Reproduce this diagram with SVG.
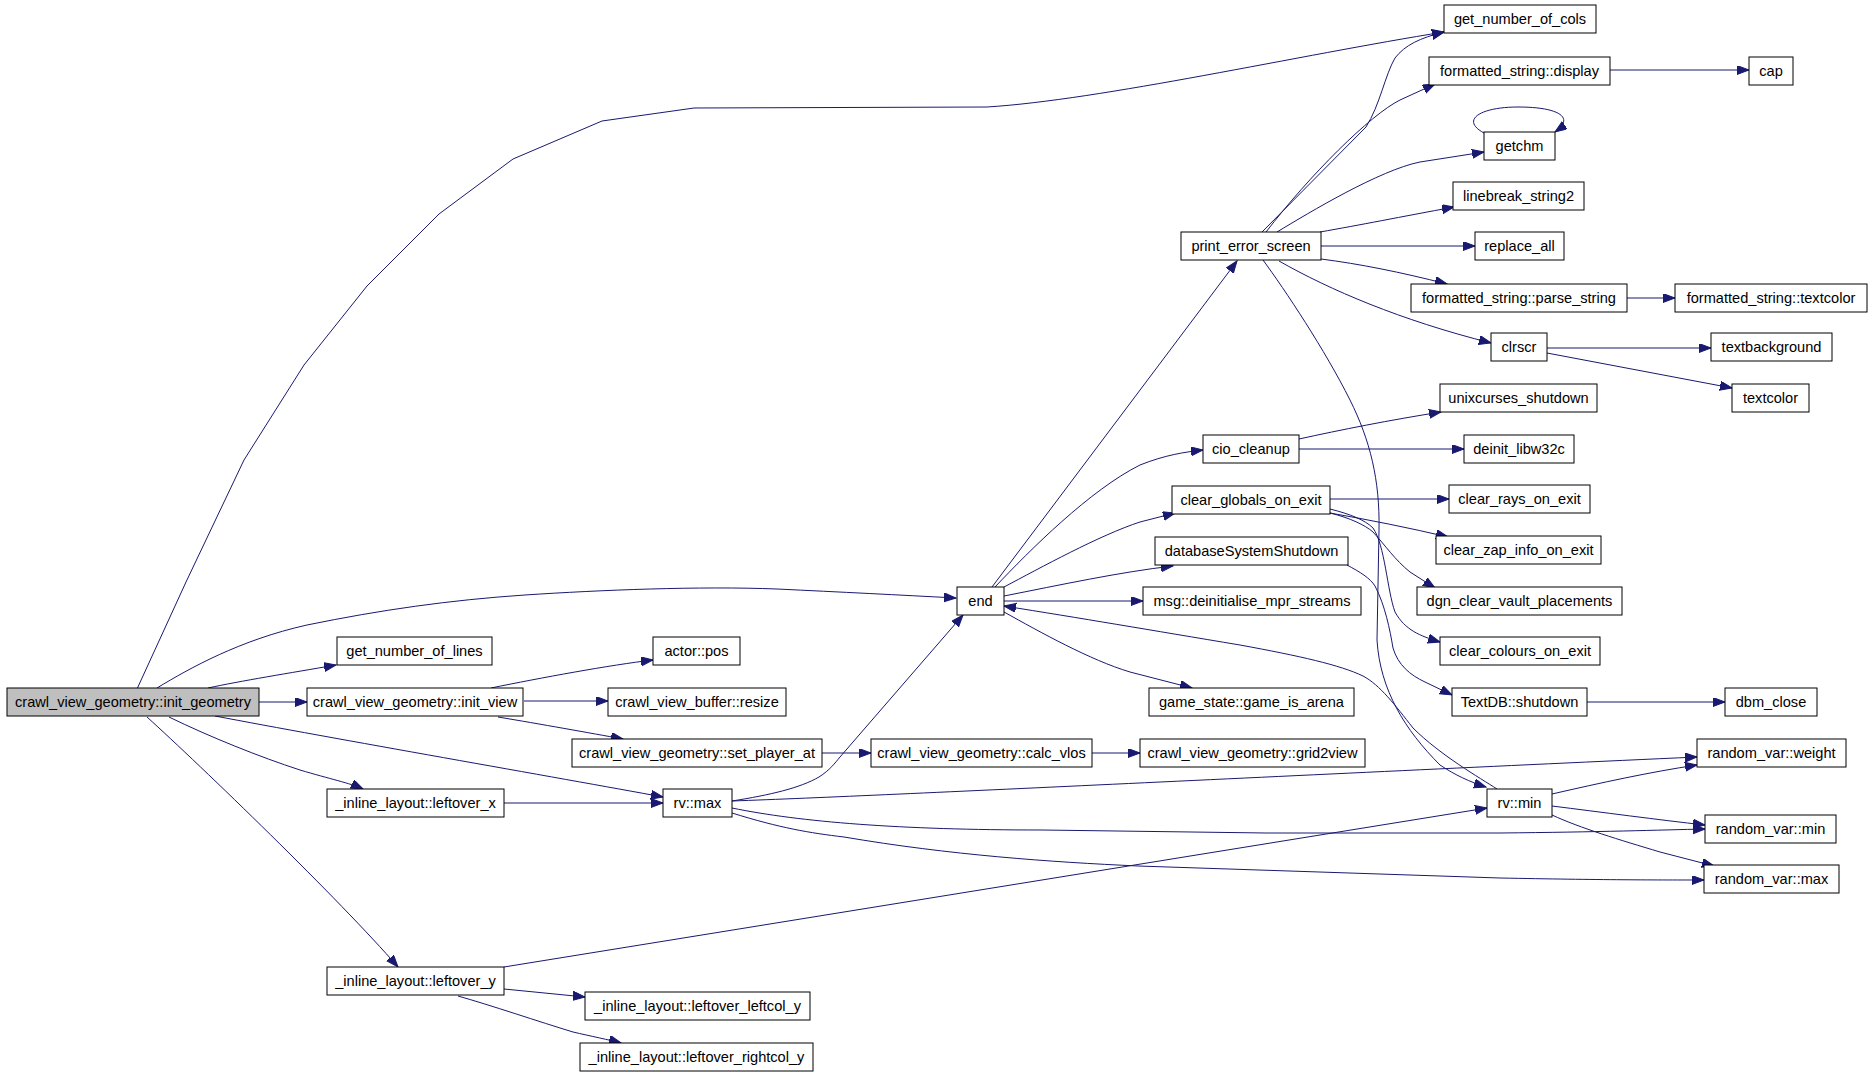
<svg xmlns="http://www.w3.org/2000/svg" width="1872" height="1075" viewBox="0 0 1872 1075">
<style>
.n rect{fill:#fff;stroke:#000;stroke-width:1}
.n text{font-family:"Liberation Sans",Arial,sans-serif;font-size:14.6px;fill:#000;text-anchor:middle}
#init_geometry rect{fill:#bfbfbf}
#edges path{fill:none;stroke:#191970;stroke-width:1;marker-end:url(#ah)}
</style>
<defs>
<marker id="ah" markerUnits="userSpaceOnUse" markerWidth="13" markerHeight="10" refX="12" refY="4.5" orient="auto">
<path d="M0,0 L12,4.5 L0,9 z" fill="#191970" stroke="#191970" stroke-width="1"/>
</marker>
</defs>
<rect x="0" y="0" width="1872" height="1075" fill="#fff"/>
<g id="edges">
<path d="M137,689 L186,582 L244,460 L304,365 L367,286 L439,214 L513,159 L602,121 L694,108 L987,107 C1100,100 1300,55 1444,32"/>
<path d="M157,688 C190,668 240,640 307,625 C380,610 450,600 525,595 C600,590 700,586 777,589 C840,592 900,595 956,598"/>
<path d="M208,688 C240,681 290,673 336,665"/>
<path d="M259,702 L307,702"/>
<path d="M215,716 C330,738 560,778 663,797"/>
<path d="M169,717 C210,737 260,757 300,770 C330,779 350,783 363,789"/>
<path d="M147,717 C200,765 340,900 398,967"/>
<path d="M504,803 L663,803"/>
<path d="M504,967 L1487,808"/>
<path d="M504,989 L585,997"/>
<path d="M458,996 C490,1005 540,1022 573,1032 C590,1036 610,1040 621,1043"/>
<path d="M491,688 C540,678 610,665 653,660"/>
<path d="M524,701 L608,701"/>
<path d="M498,717 C540,724 590,733 623,739"/>
<path d="M822,753 L871,753"/>
<path d="M1092,753 L1140,753"/>
<path d="M732,801 C770,795 800,788 819,777 C830,770 835,763 840,757 L963,615"/>
<path d="M732,801 C900,795 1300,775 1697,757"/>
<path d="M732,808 C800,822 900,830 1042,830 L1266,833 L1500,833 C1600,832 1660,830 1705,829"/>
<path d="M732,813 C780,828 810,833 844,837 C950,855 1050,862 1138,866 L1500,878 C1600,880 1660,880 1704,880"/>
<path d="M1552,794 C1600,783 1650,772 1697,765"/>
<path d="M1552,806 C1600,812 1660,820 1705,825"/>
<path d="M1552,815 C1580,828 1620,840 1660,852 L1714,866"/>
<path d="M1497,789 C1480,778 1440,755 1413,728 C1395,705 1380,685 1363,676 C1340,665 1300,656 1240,645 C1150,630 1080,618 1004,606"/>
<path d="M992,587 L1237,261"/>
<path d="M995,587 C1030,550 1090,490 1140,465 C1165,455 1185,452 1203,450"/>
<path d="M1004,587 C1040,568 1100,535 1140,522 L1175,513"/>
<path d="M1004,596 C1060,585 1120,572 1173,566"/>
<path d="M1004,601 L1143,601"/>
<path d="M1004,612 C1040,632 1090,660 1130,672 L1192,688"/>
<path d="M1262,232 L1366,127 C1380,105 1385,75 1395,58 C1405,45 1420,38 1444,32"/>
<path d="M1266,232 C1310,175 1370,115 1400,100 L1435,84"/>
<path d="M1277,232 C1310,212 1380,170 1420,162 L1484,152"/>
<path d="M1320,232 C1360,225 1400,217 1454,207"/>
<path d="M1321,246 L1475,246"/>
<path d="M1321,259 C1360,264 1400,272 1447,284"/>
<path d="M1279,261 C1330,290 1400,320 1491,343"/>
<path d="M1263,260 C1285,290 1325,350 1350,400 C1370,440 1380,480 1379,530 L1377,640 C1380,690 1405,730 1440,765 C1455,775 1470,782 1486,787"/>
<path d="M1610,70 L1749,70"/>
<path d="M1484,133 C1460,120 1480,107 1518,107 C1560,107 1575,118 1555,132"/>
<path d="M1627,298 L1675,298"/>
<path d="M1547,348 L1711,348"/>
<path d="M1547,353 L1732,388"/>
<path d="M1299,439 C1340,430 1390,420 1441,412"/>
<path d="M1299,449 L1464,449"/>
<path d="M1330,499 L1449,499"/>
<path d="M1330,513 C1370,520 1410,528 1448,537"/>
<path d="M1330,513 C1350,518 1365,525 1373,532 C1385,545 1395,560 1410,572 L1435,588"/>
<path d="M1330,509 C1350,514 1365,520 1373,528 C1385,545 1387,590 1395,612 C1405,630 1420,636 1440,642"/>
<path d="M1347,565 C1360,572 1370,578 1375,586 C1385,605 1390,630 1393,648 C1398,665 1410,675 1425,682 L1452,695"/>
<path d="M1587,702 L1725,702"/>
</g>
<g id="init_geometry" class="n"><rect x="7" y="688" width="252" height="28"/><text x="133" y="707">crawl_view_geometry::init_geometry</text></g>
<g id="get_number_of_lines" class="n"><rect x="337" y="637" width="155" height="28"/><text x="414.5" y="656">get_number_of_lines</text></g>
<g id="init_view" class="n"><rect x="307" y="688" width="216" height="28"/><text x="415" y="707">crawl_view_geometry::init_view</text></g>
<g id="leftover_x" class="n"><rect x="327" y="789" width="177" height="28"/><text x="415.5" y="808">_inline_layout::leftover_x</text></g>
<g id="leftover_y" class="n"><rect x="327" y="967" width="177" height="28"/><text x="415.5" y="986">_inline_layout::leftover_y</text></g>
<g id="leftover_leftcol_y" class="n"><rect x="585" y="992" width="225" height="28"/><text x="697.5" y="1011">_inline_layout::leftover_leftcol_y</text></g>
<g id="leftover_rightcol_y" class="n"><rect x="580" y="1043" width="233" height="28"/><text x="696.5" y="1062">_inline_layout::leftover_rightcol_y</text></g>
<g id="actor_pos" class="n"><rect x="653" y="637" width="87" height="28"/><text x="696.5" y="656">actor::pos</text></g>
<g id="buffer_resize" class="n"><rect x="608" y="688" width="178" height="28"/><text x="697" y="707">crawl_view_buffer::resize</text></g>
<g id="set_player_at" class="n"><rect x="572" y="739" width="250" height="28"/><text x="697" y="758">crawl_view_geometry::set_player_at</text></g>
<g id="calc_vlos" class="n"><rect x="871" y="739" width="221" height="28"/><text x="981.5" y="758">crawl_view_geometry::calc_vlos</text></g>
<g id="grid2view" class="n"><rect x="1140" y="739" width="225" height="28"/><text x="1252.5" y="758">crawl_view_geometry::grid2view</text></g>
<g id="rv_max" class="n"><rect x="663" y="789" width="69" height="28"/><text x="697.5" y="808">rv::max</text></g>
<g id="end" class="n"><rect x="957" y="587" width="47" height="28"/><text x="980.5" y="606">end</text></g>
<g id="print_error_screen" class="n"><rect x="1181" y="232" width="140" height="28"/><text x="1251" y="251">print_error_screen</text></g>
<g id="cio_cleanup" class="n"><rect x="1203" y="435" width="96" height="28"/><text x="1251" y="454">cio_cleanup</text></g>
<g id="clear_globals_on_exit" class="n"><rect x="1172" y="486" width="158" height="28"/><text x="1251" y="505">clear_globals_on_exit</text></g>
<g id="databaseSystemShutdown" class="n"><rect x="1155" y="537" width="193" height="28"/><text x="1251.5" y="556">databaseSystemShutdown</text></g>
<g id="deinitialise_mpr_streams" class="n"><rect x="1143" y="587" width="218" height="28"/><text x="1252" y="606">msg::deinitialise_mpr_streams</text></g>
<g id="game_is_arena" class="n"><rect x="1149" y="688" width="205" height="28"/><text x="1251.5" y="707">game_state::game_is_arena</text></g>
<g id="get_number_of_cols" class="n"><rect x="1444" y="5" width="152" height="28"/><text x="1520" y="24">get_number_of_cols</text></g>
<g id="fs_display" class="n"><rect x="1429" y="57" width="181" height="28"/><text x="1519.5" y="76">formatted_string::display</text></g>
<g id="cap" class="n"><rect x="1749" y="57" width="44" height="28"/><text x="1771" y="76">cap</text></g>
<g id="getchm" class="n"><rect x="1484" y="132" width="71" height="28"/><text x="1519.5" y="151">getchm</text></g>
<g id="linebreak_string2" class="n"><rect x="1453" y="182" width="131" height="28"/><text x="1518.5" y="201">linebreak_string2</text></g>
<g id="replace_all" class="n"><rect x="1475" y="232" width="89" height="28"/><text x="1519.5" y="251">replace_all</text></g>
<g id="fs_parse_string" class="n"><rect x="1411" y="284" width="216" height="28"/><text x="1519" y="303">formatted_string::parse_string</text></g>
<g id="fs_textcolor" class="n"><rect x="1675" y="284" width="192" height="28"/><text x="1771" y="303">formatted_string::textcolor</text></g>
<g id="clrscr" class="n"><rect x="1491" y="333" width="56" height="28"/><text x="1519" y="352">clrscr</text></g>
<g id="textbackground" class="n"><rect x="1711" y="333" width="121" height="28"/><text x="1771.5" y="352">textbackground</text></g>
<g id="textcolor" class="n"><rect x="1732" y="384" width="77" height="28"/><text x="1770.5" y="403">textcolor</text></g>
<g id="unixcurses_shutdown" class="n"><rect x="1440" y="384" width="157" height="28"/><text x="1518.5" y="403">unixcurses_shutdown</text></g>
<g id="deinit_libw32c" class="n"><rect x="1464" y="435" width="110" height="28"/><text x="1519" y="454">deinit_libw32c</text></g>
<g id="clear_rays_on_exit" class="n"><rect x="1449" y="485" width="141" height="28"/><text x="1519.5" y="504">clear_rays_on_exit</text></g>
<g id="clear_zap_info_on_exit" class="n"><rect x="1436" y="536" width="165" height="28"/><text x="1518.5" y="555">clear_zap_info_on_exit</text></g>
<g id="dgn_clear_vault_placements" class="n"><rect x="1417" y="587" width="205" height="28"/><text x="1519.5" y="606">dgn_clear_vault_placements</text></g>
<g id="clear_colours_on_exit" class="n"><rect x="1440" y="637" width="160" height="28"/><text x="1520" y="656">clear_colours_on_exit</text></g>
<g id="textdb_shutdown" class="n"><rect x="1452" y="688" width="135" height="28"/><text x="1519.5" y="707">TextDB::shutdown</text></g>
<g id="dbm_close" class="n"><rect x="1725" y="688" width="92" height="28"/><text x="1771" y="707">dbm_close</text></g>
<g id="rv_min" class="n"><rect x="1487" y="789" width="65" height="28"/><text x="1519.5" y="808">rv::min</text></g>
<g id="random_var_weight" class="n"><rect x="1697" y="739" width="149" height="28"/><text x="1771.5" y="758">random_var::weight</text></g>
<g id="random_var_min" class="n"><rect x="1705" y="815" width="131" height="28"/><text x="1770.5" y="834">random_var::min</text></g>
<g id="random_var_max" class="n"><rect x="1704" y="865" width="135" height="28"/><text x="1771.5" y="884">random_var::max</text></g>
</svg>
